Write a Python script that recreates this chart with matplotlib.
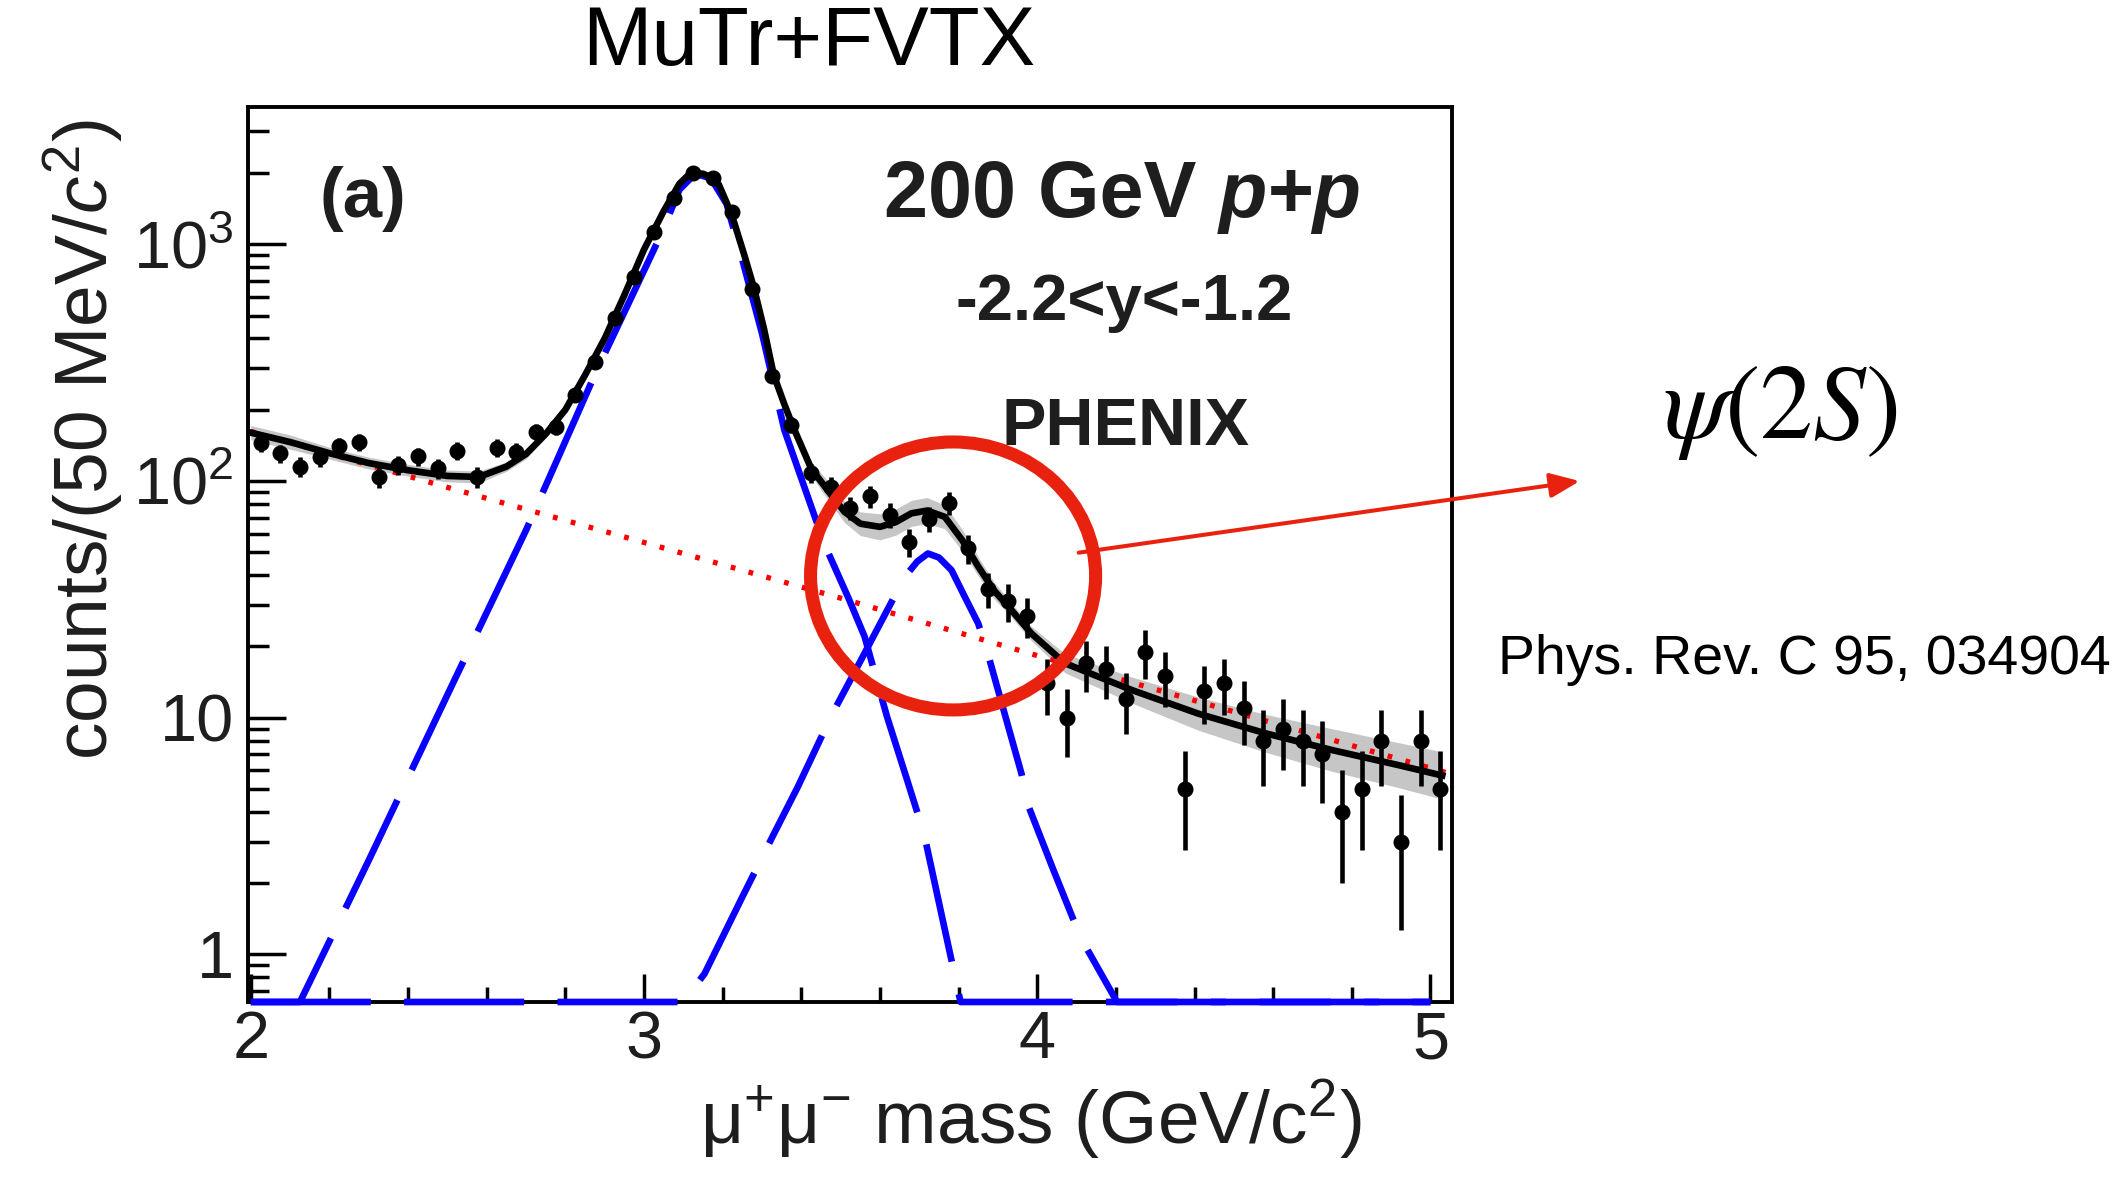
import numpy as np
import matplotlib
matplotlib.use("Agg")
import matplotlib.pyplot as plt
from matplotlib.patches import Ellipse
from matplotlib.ticker import FixedLocator, LogLocator, MultipleLocator, NullFormatter, FuncFormatter

plt.rcParams['font.family'] = ['Liberation Sans', 'DejaVu Sans']
plt.rcParams['mathtext.fontset'] = 'custom'
plt.rcParams['mathtext.rm'] = 'Liberation Sans'
plt.rcParams['mathtext.it'] = 'Liberation Sans:italic'
plt.rcParams['mathtext.bf'] = 'Liberation Sans:bold'

# dimuon mass histogram, 50 MeV bins from 2.0 to 5.05 GeV/c^2
bin_edges = np.linspace(2.0, 5.05, 62)
mass = 0.5 * (bin_edges[:-1] + bin_edges[1:])
counts = [144, 131, 115, 126, 140, 146, 104, 117, 127, 113,
          134, 104, 138, 133, 161, 169, 230, 319, 490, 729,
          1125, 1563, 1990, 1900, 1370, 650, 277, 173, 108, 94,
          77, 86, 72, 55, 69, 81, 52, 35, 31, 27,
          14, 10, 17, 16, 12, 19, 15, 5, 13, 14,
          11, 8, 9, 8, 7, 4, 5, 8, 3, 8, 5]

# total fit (black) with its uncertainty band (half width in decades)
fit_mass = [2.00, 2.10, 2.20, 2.30, 2.40, 2.50, 2.58, 2.65, 2.70, 2.75,
            2.80, 2.85, 2.90, 2.95, 3.00, 3.05, 3.09, 3.11, 3.13, 3.15,
            3.17, 3.19, 3.21, 3.23, 3.255, 3.28, 3.305, 3.33, 3.355, 3.38,
            3.425, 3.47, 3.51, 3.55, 3.60, 3.64, 3.68, 3.72, 3.765, 3.81,
            3.85, 3.89, 3.935, 3.985, 4.07, 4.24, 4.41, 4.58, 4.75, 4.92, 5.03]
fit_total = [160, 146, 131, 119, 111, 105, 104, 115, 130, 158,
             200, 280, 400, 610, 950, 1380, 1800, 1940, 1995, 1985,
             1920, 1790, 1500, 1225, 900, 650, 440, 280, 215, 168,
             113, 90, 74, 66, 64, 67, 73, 75, 70.5, 56,
             43.5, 34.5, 28.4, 22.7, 17, 13.1, 10.4, 8.6, 7.3, 6.3, 5.7]
fit_band = [0.03, 0.03, 0.025, 0.025, 0.025, 0.025, 0.025, 0.02, 0.02, 0.015,
            0.015, 0.01, 0.01, 0.01, 0.01, 0.01, 0.01, 0.01, 0.01, 0.01,
            0.01, 0.01, 0.01, 0.01, 0.01, 0.01, 0.012, 0.015, 0.02, 0.025,
            0.03, 0.04, 0.045, 0.05, 0.055, 0.055, 0.055, 0.055, 0.05, 0.045,
            0.04, 0.035, 0.03, 0.03, 0.04, 0.055, 0.07, 0.08, 0.09, 0.095, 0.1]

# J/psi component (blue dashed); values below the frame sit on the bottom edge
jpsi_mass = [2.00, 2.125, 2.30, 2.50, 2.70, 2.88, 2.96, 3.045, 3.09, 3.13,
             3.17, 3.21, 3.25, 3.30, 3.357, 3.41, 3.459, 3.52, 3.561, 3.618,
             3.67, 3.712, 3.76, 3.805, 5.00]
jpsi = [0.63, 0.63, 2.5, 12.5, 62, 294, 560, 1115, 1700, 1985,
        1900, 1480, 860, 420, 164, 92, 54, 32, 22, 10.1,
        5.4, 3.24, 1.39, 0.63, 0.63]

# psi(2S) component (blue dashed)
psi2s_mass = [2.00, 3.10, 3.154, 3.25, 3.329, 3.391, 3.479, 3.55, 3.623, 3.663,
              3.695, 3.722, 3.75, 3.782, 3.815, 3.85, 3.877, 3.92, 3.96, 3.977,
              4.04, 4.093, 4.126, 4.203, 5.00]
psi2s = [0.63, 0.63, 0.83, 1.75, 3.2, 5.1, 10.4, 17.3, 29.4, 39.3,
         45.7, 49.4, 47.5, 42, 32.6, 25, 18, 10, 5.8, 4.26,
         2.3, 1.39, 1.06, 0.63, 0.63]

# continuum background (red dotted)
bkg_mass = [2.0, 2.5, 3.0, 3.5, 4.0, 4.5, 5.05]
bkg = [162, 94, 55, 32, 18.3, 10.6, 5.8]

y_ticks = [1, 10, 100, 1000]
x_ticks = [2, 3, 4, 5]

text_col = '#1e1e1e'

fig = plt.figure(figsize=(21.26, 11.82), dpi=100)
ax = fig.add_axes([0.1165, 0.1523, 0.5665, 0.7572])

# uncertainty band + total fit
fit_total = np.array(fit_total)
band = np.array(fit_band)
ax.fill_between(fit_mass, fit_total * 10**(-band), fit_total * 10**band,
                color='#c6c6c6', lw=0, zorder=2)
ax.plot(bkg_mass, bkg, color='#ff0000', lw=3.8, dashes=(0.9, 2.6),
        dash_capstyle='butt', zorder=3)
ax.plot(jpsi_mass, jpsi, color='#0a00ff', lw=4.8, dashes=(18, 5),
        dash_capstyle='butt', zorder=3, clip_on=False)
ax.plot(psi2s_mass, psi2s, color='#0a00ff', lw=4.8, dashes=(18, 5),
        dash_capstyle='butt', zorder=3, clip_on=False)
ax.plot(fit_mass, fit_total, color='black', lw=4.8, zorder=4)

ax.errorbar(mass, counts, yerr=np.sqrt(counts), fmt='o', color='black',
            ms=10.5, elinewidth=3.3, capsize=0, zorder=6)

ax.set_yscale('log')
ax.set_xlim(1.992, 5.055)
ax.set_ylim(0.63, 3800)

ax.yaxis.set_major_locator(FixedLocator(y_ticks))
ax.yaxis.set_minor_locator(LogLocator(base=10, subs=np.arange(2, 10), numticks=20))
ax.yaxis.set_minor_formatter(NullFormatter())

def ylab(v, pos):
    if v < 5:
        return '1'
    if v < 50:
        return '10'
    return r'$\mathregular{10^{%d}}$' % round(np.log10(v))

ax.yaxis.set_major_formatter(FuncFormatter(ylab))
ax.xaxis.set_major_locator(FixedLocator(x_ticks))
ax.xaxis.set_minor_locator(MultipleLocator(0.2))
ax.xaxis.set_major_formatter(FuncFormatter(lambda v, p: '%d' % v))

ax.tick_params(which='both', direction='in', top=False, right=False,
               width=2.5, labelsize=48, labelcolor=text_col)
ax.tick_params(axis='y', which='major', length=27, pad=10)
ax.tick_params(axis='y', which='minor', length=15)
ax.tick_params(axis='x', which='major', length=20, pad=6)
ax.tick_params(axis='x', which='minor', length=11)
for s in ax.spines.values():
    s.set_linewidth(2.8)

ax.set_xlabel(r'$\mathregular{μ^{+}μ^{-}}$ mass (GeV/$\mathregular{c^{2}}$)',
              fontsize=54, color=text_col, va='center')
ax.xaxis.set_label_coords(0.650, -0.131)
ax.set_ylabel(r'counts/(50 MeV/$\mathit{c}^{2}$)', fontsize=54,
              color=text_col, va='center')
ax.yaxis.set_label_coords(-0.136, 0.628)

# in-frame labels
ax.text(0.060, 0.877, '(a)', transform=ax.transAxes, fontsize=51,
        fontweight='bold', color=text_col, va='baseline')
t1 = ax.text(0.5285, 0.877, '200 GeV ', transform=ax.transAxes, fontsize=57,
             fontweight='bold', color=text_col, va='baseline')
ax.annotate('p+p', xy=(1, 0), xycoords=t1, fontsize=57, fontweight='bold',
            fontstyle='italic', color=text_col, va='bottom', ha='left')
ax.text(0.588, 0.762, '-2.2<y<-1.2', transform=ax.transAxes, fontsize=47,
        fontweight='bold', color=text_col, va='baseline')
ax.text(0.6256, 0.6223, 'PHENIX', transform=ax.transAxes, fontsize=48,
        fontweight='bold', color=text_col, va='baseline')

# psi(2S) highlight
red = '#e8220f'
ax.add_patch(Ellipse((0.5857, 0.476), 0.2367, 0.2994, transform=ax.transAxes,
                     fill=False, ec=red, lw=9.4, zorder=8, clip_on=False))
ax.annotate('', xy=(1.106, 0.582), xytext=(0.690, 0.502),
            xycoords='axes fraction', annotation_clip=False,
            arrowprops=dict(arrowstyle='-|>,head_length=0.6,head_width=0.25',
                            color=red, lw=2.9, mutation_scale=30,
                            shrinkA=0, shrinkB=0), zorder=7)

fig.text(0.3805, 0.945, 'MuTr+FVTX', fontsize=60, ha='center', va='baseline',
         color='black')
fig.text(0.7822, 0.6294, r'$\psi(2S)$', fontsize=76, math_fontfamily='stix',
         ha='left', va='baseline', color='black')
fig.text(0.7046, 0.4298, 'Phys. Rev. C 95, 034904', fontsize=40,
         ha='left', va='baseline', color='black')

fig.savefig('out.png', dpi=100)
